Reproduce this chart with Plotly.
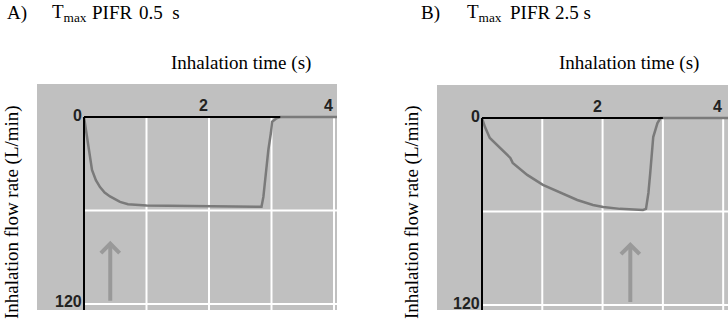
import plotly.graph_objects as go

# ---------------- data ----------------
# Panel A: fast rise, Tmax PIFR 0.5 s
tA = [0, 0.03, 0.064, 0.128, 0.19, 0.256, 0.33, 0.416, 0.576, 0.704, 1.0, 1.5, 2.0, 2.5, 2.84,
      2.87, 2.92, 2.95, 2.99, 3.01, 3.08, 3.14, 4.2]
vA = [0, 8, 19, 34, 40.5, 45, 48.5, 51, 54.5, 56, 56.8, 57, 56.8, 57, 57.6,
      51.3, 32, 21, 10.3, 3, 0.8, 0, 0]
endA = 3.14

# Panel B: slow rise, Tmax PIFR 2.5 s
tB = [0, 0.05, 0.13, 0.30, 0.47, 0.51, 0.75, 1.01, 1.30, 1.58, 1.84, 2.01, 2.29,
      2.67, 2.72, 2.76, 2.79, 2.82, 2.84, 2.91, 2.96, 4.2]
vB = [0, 5.8, 12.8, 19.2, 25.6, 28.8, 36.5, 42.9, 48.1, 52.6, 55.8, 57.1, 58.3,
      59.0, 58.3, 48.1, 35.3, 22.4, 12.2, 3.2, 0, 0]
endB = 3.0

arrow_t = [0.42, 2.46]
arrow_tip = [79.5, 79.5]
arrow_tail = [119, 119]

x_grid = [1, 2, 3, 4]
y_grid = [60, 120]
x_ticklabels = [(2, "2"), (4, "4")]
y_ticklabels = [(0, "0"), (120, "120")]

panel_letters = ["A)", "B)"]
title_parts = [["T<sub>max</sub>", "PIFR", "0.5\u00a0\u00a0s"],
               ["T<sub>max</sub>", "PIFR", "2.5\u00a0s"]]
x_title = "Inhalation time (s)"
y_title = "Inhalation flow rate (L/min)"

# ---------------- figure ----------------
W, H = 728, 319
BG = "#c0c0c0"
TRACE = "#7a7a7a"

fig = go.Figure()
fig.add_trace(go.Scatter(x=tA, y=vA, mode="lines", xaxis="x", yaxis="y",
                         line=dict(color=TRACE, width=2.5), hoverinfo="skip"))
fig.add_trace(go.Scatter(x=tB, y=vB, mode="lines", xaxis="x2", yaxis="y2",
                         line=dict(color=TRACE, width=2.5), hoverinfo="skip"))

def px(v):
    return v / W

def py(v):
    return 1 - v / H

ax_common = dict(showgrid=False, zeroline=False, showticklabels=False, ticks="",
                 showline=False, fixedrange=True)
fig.update_layout(
    width=W, height=H, margin=dict(l=0, r=0, t=0, b=0),
    paper_bgcolor="white", plot_bgcolor=BG, showlegend=False,
    xaxis=dict(domain=[px(37), px(337)], range=[-0.752, 4.048], anchor="y", **ax_common),
    yaxis=dict(domain=[py(310), py(84)], range=[123.9, -21.2], anchor="x", **ax_common),
    xaxis2=dict(domain=[px(437), 1.0], range=[-0.746, 4.08], anchor="y2", **ax_common),
    yaxis2=dict(domain=[py(310), py(85)], range=[123.2, -21.2], anchor="x2", **ax_common),
)

shapes = []
annotations = []
tick_font = dict(family="Liberation Sans", size=16, color="#222222")
serif = dict(family="Liberation Serif", size=19, color="black")

panels = [("x", "y", endA, 4.048, 123.9), ("x2", "y2", endB, 4.08, 123.2)]
for i, (xr, yr, tend, xmax, ymax) in enumerate(panels):
    for g in x_grid:
        shapes.append(dict(type="line", xref=xr, yref=yr, x0=g, x1=g, y0=0, y1=ymax,
                           line=dict(color="white", width=2), layer="below"))
    for g in y_grid:
        shapes.append(dict(type="line", xref=xr, yref=yr, x0=0, x1=xmax, y0=g, y1=g,
                           line=dict(color="white", width=2), layer="below"))
    # black axes
    shapes.append(dict(type="line", xref=xr, yref=yr, x0=0, x1=tend, y0=0, y1=0,
                       line=dict(color="black", width=2), layer="above"))
    shapes.append(dict(type="line", xref=xr, yref=yr, x0=0, x1=0, y0=0, y1=ymax,
                       line=dict(color="black", width=2), layer="above"))
    for tv, tx in x_ticklabels:
        annotations.append(dict(x=tv, y=0, xref=xr, yref=yr, text="<b>%s</b>" % tx,
                                showarrow=False, xanchor="right", yanchor="bottom",
                                xshift=1, yshift=1, font=tick_font))
    for vv, tx in y_ticklabels:
        annotations.append(dict(x=0, y=vv, xref=xr, yref=yr, text="<b>%s</b>" % tx,
                                showarrow=False, xanchor="right", yanchor="middle",
                                xshift=0, yshift=2, font=tick_font))
    annotations.append(dict(x=arrow_t[i], y=arrow_tip[i], ax=arrow_t[i], ay=arrow_tail[i],
                            xref=xr, yref=yr, axref=xr, ayref=yr, text="",
                            showarrow=True, arrowhead=4, arrowsize=0.9, arrowwidth=4,
                            arrowcolor="#999999"))

# text labels (paper positions)
letter_x = [5, 419]
part_x = [[50, 90, 137], [465, 508, 553]]
xt_center = [241, 629]
yt_center_x = [12, 412]
for i in range(2):
    annotations.append(dict(x=px(letter_x[i]), y=py(13), xref="paper", yref="paper",
                            text=panel_letters[i], showarrow=False, xanchor="left",
                            yanchor="middle", font=serif))
    for part, xp in zip(title_parts[i], part_x[i]):
        annotations.append(dict(x=px(xp), y=py(13), xref="paper", yref="paper",
                                text=part, showarrow=False, xanchor="left",
                                yanchor="middle", font=serif))
    annotations.append(dict(x=px(xt_center[i]), y=py(63), xref="paper", yref="paper",
                            text=x_title, showarrow=False, xanchor="center",
                            yanchor="middle", font=serif))
    annotations.append(dict(x=px(yt_center_x[i]), y=py(212), xref="paper", yref="paper",
                            text=y_title, showarrow=False, xanchor="center",
                            yanchor="middle", textangle=-90, font=serif))

fig.update_layout(shapes=shapes, annotations=annotations)
fig.write_html("out.html", config={"displayModeBar": False, "staticPlot": True},
               post_script="document.body.style.margin='0';document.body.style.overflow='hidden';")
